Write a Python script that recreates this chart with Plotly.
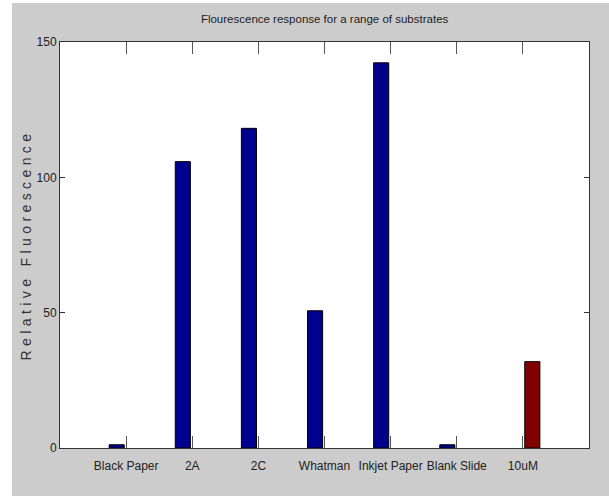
import plotly.graph_objects as go

categories = ["Black Paper", "2A", "2C", "Whatman", "Inkjet Paper", "Blank Slide", "10uM"]
positions = [1, 2, 3, 4, 5, 6, 7]
substrate_values = [1.2, 105.8, 118.1, 50.7, 142.3, 1.2, None]
reference_values = [None, None, None, None, None, None, 31.9]
y_ticks = [0, 50, 100, 150]

SANS = "Liberation Sans, Arial, sans-serif"

fig = go.Figure()
fig.add_trace(go.Bar(x=positions, y=substrate_values, name="substrates",
                     marker=dict(color="rgb(0,0,143)", line=dict(color="black", width=1))))
fig.add_trace(go.Bar(x=positions, y=reference_values, name="10uM",
                     marker=dict(color="rgb(128,0,0)", line=dict(color="black", width=1))))

fig.update_layout(
    width=609, height=498,
    margin=dict(l=60, r=20, t=42, b=50),
    paper_bgcolor="#CCCCCC",
    plot_bgcolor="white",
    barmode="group",
    bargap=0.429,
    bargroupgap=0.2,
    showlegend=False,
    title=dict(text="Flourescence response for a range of substrates",
               x=0.533, xanchor="center", y=0.962, yanchor="middle",
               font=dict(family=SANS, size=11.5, color="#222")),
    xaxis=dict(range=[0, 8], tickvals=positions, ticktext=categories, tickangle=0,
               showline=True, linecolor="#333", linewidth=1, mirror="ticks",
               ticks="inside", ticklen=12, tickcolor="#555", tickwidth=1,
               showgrid=False, zeroline=False, ticklabelstandoff=7,
               tickfont=dict(family=SANS, size=12, color="#222")),
    yaxis=dict(range=[0, 150], tickvals=y_ticks,
               showline=True, linecolor="#333", linewidth=1, mirror="ticks",
               ticks="inside", ticklen=5, tickcolor="#333", tickwidth=1,
               showgrid=False, zeroline=False,
               tickfont=dict(family=SANS, size=12, color="#222"),
               title=dict(text='<span style="letter-spacing:4.4px">Relative Fluorescence</span>',
                          font=dict(family=SANS, size=14, color="#333"),
                          standoff=1)),
    shapes=[
        dict(type="rect", xref="paper", yref="paper", x0=-0.2, x1=(12 - 60) / 529,
             y0=-0.2, y1=1.2, fillcolor="white", line=dict(width=0), layer="above"),
        dict(type="rect", xref="paper", yref="paper", x0=-0.2, x1=1.2,
             y0=(448 - 3) / 406, y1=1.2, fillcolor="white", line=dict(width=0), layer="above"),
        dict(type="rect", xref="paper", yref="paper", x0=-0.2, x1=1.2,
             y0=-0.2, y1=(448 - 496) / 406, fillcolor="white", line=dict(width=0), layer="above"),
    ],
)

fig.write_html("out.html", config={"displayModeBar": False},
               post_script="document.body.style.margin='0';")
